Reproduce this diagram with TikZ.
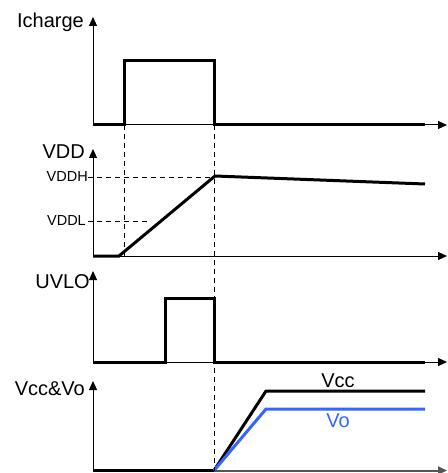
\documentclass[tikz,border=0pt]{standalone}
\usepackage{fontspec}
\setmainfont{Liberation Sans}
\usetikzlibrary{arrows.meta}
\definecolor{voblue}{RGB}{51,102,255}
\definecolor{axgray}{RGB}{85,85,85}
\begin{document}
\begin{tikzpicture}[x=1pt,y=-1pt,
  axis/.style={line width=1pt,-{Triangle[length=9pt,width=8pt]}},
  sig/.style={line width=3pt},
  guide/.style={line width=0.9pt,dash pattern=on 5pt off 4pt},
  big/.style={font=\fontsize{20}{24}\selectfont,inner sep=0pt,anchor=base east},
  small/.style={font=\fontsize{14.5}{17}\selectfont,inner sep=0pt,anchor=base east}]
\useasboundingbox (0,0) rectangle (447,473);
% ---------- Icharge ----------
\coordinate (o1) at (93,125);
\coordinate (y1) at (93,17);
\coordinate (x1) at (447,125);
\draw[axis] (o1) -- (y1);
\draw[axis] (o1) -- (x1);
\node[big] (lIch) at (84,28) {Icharge};
\coordinate (p1a) at (124,125);
\coordinate (p1b) at (124,61);
\coordinate (p1c) at (214,61);
\coordinate (p1d) at (214,125);
\coordinate (e1) at (425,125);
\draw[sig] (o1) -- (p1a) -- (p1b) -- (p1c) -- (p1d) -- (e1);
% ---------- VDD ----------
\coordinate (o2) at (93,256);
\coordinate (y2) at (93,149);
\coordinate (x2) at (447,256);
\draw[axis] (o2) -- (y2);
\draw[axis] (o2) -- (x2);
\node[big] (lVDD) at (85,158) {VDD};
\node[small] (lVH) at (88,181) {VDDH};
\node[small] (lVL) at (86,225) {VDDL};
\coordinate (r0) at (119,256);
\coordinate (r1) at (215,176);
\coordinate (e2) at (425,184);
\draw[sig] (o2) -- (r0) -- (r1) -- (e2);
\coordinate (hH0) at (88,177);
\coordinate (hH1) at (214,177);
\coordinate (hL0) at (88,221);
\coordinate (hL1) at (151,221);
\draw[guide] (hH0) -- (hH1);
\draw[guide] (hL0) -- (hL1);
% ---------- UVLO ----------
\coordinate (o3) at (93,362);
\coordinate (y3) at (93,271);
\coordinate (x3) at (447,362);
\draw[axis] (o3) -- (y3);
\draw[axis] (o3) -- (x3);
\node[big] (lUV) at (90,288) {UVLO};
\coordinate (p3a) at (165,362);
\coordinate (p3b) at (165,298);
\coordinate (p3c) at (214,298);
\coordinate (p3d) at (214,362);
\coordinate (e3) at (425,362);
\draw[sig] (o3) -- (p3a) -- (p3b) -- (p3c) -- (p3d) -- (e3);
% ---------- Vcc & Vo ----------
\coordinate (o4) at (93,470.5);
\coordinate (y4) at (93,381);
\coordinate (x4) at (447,470.5);
\draw[axis] (o4) -- (y4);
\draw[axis,axgray,line width=2pt] (o4) -- (x4);
\node[big] (lVV) at (85,395) {Vcc\&Vo};
\coordinate (s4) at (214,470.5);
\draw[sig] (o4) -- (s4);
\coordinate (c1) at (266,391);
\coordinate (c2) at (425,391);
\coordinate (v1) at (266,409);
\coordinate (v2) at (425,409);
\draw[sig] (s4) -- (c1) -- (c2);
\draw[sig,voblue] (s4) -- (v1) -- (v2);
\node[font=\fontsize{20}{24}\selectfont,inner sep=0pt,anchor=base] (lVcc) at (338,387) {Vcc};
\node[font=\fontsize{20}{24}\selectfont,inner sep=0pt,anchor=base,text=voblue] (lVo) at (338,427) {Vo};
% ---------- vertical guides ----------
\draw[guide] (p1a) -- (r0 -| p1a);
\draw[guide] (p1d) -- (s4);
\end{tikzpicture}
\end{document}
